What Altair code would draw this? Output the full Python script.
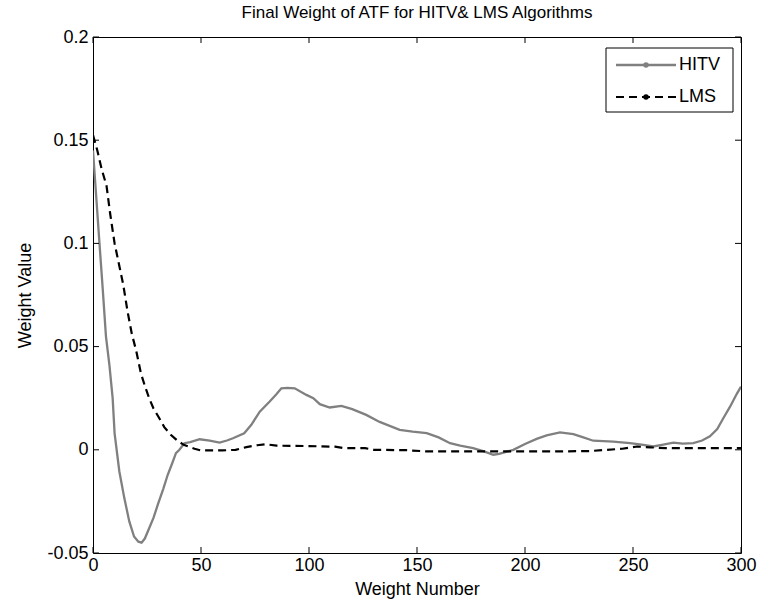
import altair as alt
import pandas as pd

# ---- data ----
hitv_w = [0, 1, 3, 4.5, 6, 7.6, 9.1, 10, 12.2, 14.5, 16.8, 19, 21, 22.5, 24, 26, 28, 30,
          32.5, 34.6, 36.5, 38.4, 40, 42.3, 45, 49.4, 54, 58.6, 62, 64.8, 70, 73.3, 77.2,
          81.8, 85, 87.2, 90, 93.4, 98.8, 102, 105, 109.6, 115, 120, 126.5, 132.7, 142,
          148, 154.5, 160, 165.3, 170, 176, 181, 185.3, 188, 194.6, 200, 205.4, 210, 216.2,
          222.4, 227, 231.6, 240.9, 248.6, 254, 259.4, 264, 268.7, 273, 277.9, 282, 285.6,
          289, 291.8, 295, 298, 300]
hitv_v = [0.145, 0.13, 0.100, 0.078, 0.055, 0.041, 0.025, 0.008, -0.0105, -0.0234, -0.0347,
          -0.042, -0.0445, -0.045, -0.043, -0.038, -0.033, -0.0266, -0.019, -0.0121, -0.007,
          -0.0016, 0.0, 0.0032, 0.0037, 0.0051, 0.0044, 0.0035, 0.0045, 0.0056, 0.008, 0.0121,
          0.0185, 0.0234, 0.027, 0.0298, 0.030, 0.0298, 0.0266, 0.025, 0.0221, 0.0205, 0.0213,
          0.0197, 0.0169, 0.0135, 0.0097, 0.0088, 0.0081, 0.006, 0.0032, 0.002, 0.0008,
          -0.0008, -0.0024, -0.002, 0.0, 0.0028, 0.0053, 0.007, 0.0084, 0.0076, 0.006, 0.0044,
          0.004, 0.0032, 0.0025, 0.0016, 0.0025, 0.0035, 0.003, 0.0032, 0.0045, 0.0065, 0.010,
          0.0153, 0.021, 0.027, 0.0306]

lms_w = [0, 2, 4, 6.25, 8, 10, 12, 14, 16, 18, 20, 22.2, 24, 26, 28, 30.7, 33, 36, 39, 42,
         47, 50, 60, 66, 71, 76, 80, 85, 100, 112, 116, 126, 130, 145, 155, 180, 215, 230,
         245, 252, 258, 265, 300]
lms_v = [0.1525, 0.145, 0.136, 0.128, 0.114, 0.100, 0.090, 0.080, 0.067, 0.056, 0.048, 0.037,
         0.031, 0.025, 0.020, 0.0153, 0.011, 0.0073, 0.0045, 0.0024, 0.0005, -0.0003, -0.0003,
         0.0, 0.0013, 0.0022, 0.0027, 0.002, 0.0018, 0.0015, 0.0008, 0.0008, 0.0, -0.0002,
         -0.0008, -0.0008, -0.0008, -0.0006, 0.0005, 0.0016, 0.0012, 0.0008, 0.0008]

series_names = ["HITV", "LMS"]
x_tick_values = [0, 50, 100, 150, 200, 250, 300]
y_tick_values = [-0.05, 0, 0.05, 0.1, 0.15, 0.2]

title_text = "Final Weight of ATF for HITV& LMS Algorithms"
x_title = "Weight Number"
y_title = "Weight Value"

# ---- layout / style ----
W, H = 648, 516
FONT = "Liberation Sans"
FS = 18
GRAY = "#808080"
TICK = 6

df_h = pd.DataFrame({"w": hitv_w, "v": hitv_v})
df_l = pd.DataFrame({"w": lms_w, "v": lms_v})
df_xt = pd.DataFrame({"w": x_tick_values})
df_yt = pd.DataFrame({"v": y_tick_values})
one = pd.DataFrame({"a": [0]})

xs = alt.Scale(domain=[0, 300], nice=False, zero=False)
ys = alt.Scale(domain=[-0.05, 0.2], nice=False, zero=False)

axis_style = dict(labelFont=FONT, labelFontSize=FS, labelColor="black",
                  titleFont=FONT, titleFontSize=FS, titleFontWeight="normal",
                  titleColor="black", ticks=False, domain=False, grid=False, labelFlush=False)
x_axis = alt.Axis(values=x_tick_values, format="d", labelPadding=3, titlePadding=6, **axis_style)
y_axis = alt.Axis(values=y_tick_values,
                  labelExpr="replace(format(datum.value, '~g'), '\u2212', '-')",
                  labelPadding=5, titlePadding=12, **axis_style)

X = alt.X("w:Q", scale=xs, axis=x_axis, title=x_title)
Y = alt.Y("v:Q", scale=ys, axis=y_axis, title=y_title)

hitv = alt.Chart(df_h).mark_line(color=GRAY, strokeWidth=2.3, clip=True).encode(x=X, y=Y)
lms = alt.Chart(df_l).mark_line(color="black", strokeWidth=2.2, strokeDash=[8, 5],
                                clip=True).encode(x=X, y=Y)

# inward MATLAB-style ticks on all four sides
xt_bot = alt.Chart(df_xt).mark_rule(color="black", strokeWidth=1).encode(
    x=X, y=alt.value(H), y2=alt.value(H - TICK))
xt_top = alt.Chart(df_xt).mark_rule(color="black", strokeWidth=1).encode(
    x=X, y=alt.value(0), y2=alt.value(TICK))
yt_left = alt.Chart(df_yt).mark_rule(color="black", strokeWidth=1).encode(
    y=Y, x=alt.value(0), x2=alt.value(TICK))
yt_right = alt.Chart(df_yt).mark_rule(color="black", strokeWidth=1).encode(
    y=Y, x=alt.value(W), x2=alt.value(W - TICK))

# legend box
LX0, LX1, LY0, LY1 = 513, 640, 11, 75
R1, R2 = 28, 60
box = alt.Chart(one).mark_rect(fill="white", stroke="black", strokeWidth=1).encode(
    x=alt.value(LX0), x2=alt.value(LX1), y=alt.value(LY0), y2=alt.value(LY1))
leg_h_line = alt.Chart(one).mark_rule(color=GRAY, strokeWidth=2.3).encode(
    x=alt.value(523), x2=alt.value(583), y=alt.value(R1))
leg_h_dot = alt.Chart(one).mark_point(filled=True, color=GRAY, size=30, opacity=1).encode(
    x=alt.value(553), y=alt.value(R1))
leg_l_line = alt.Chart(one).mark_rule(color="black", strokeWidth=2.2, strokeDash=[8, 5]).encode(
    x=alt.value(523), x2=alt.value(583), y=alt.value(R2))
leg_l_dot = alt.Chart(one).mark_point(filled=True, color="black", size=30, opacity=1).encode(
    x=alt.value(553), y=alt.value(R2))
df_leg1 = pd.DataFrame({"name": [series_names[0]]})
df_leg2 = pd.DataFrame({"name": [series_names[1]]})
leg_t1 = alt.Chart(df_leg1).mark_text(align="left", baseline="middle", font=FONT, fontSize=FS,
                                      color="black").encode(
    x=alt.value(586), y=alt.value(R1), text="name:N")
leg_t2 = alt.Chart(df_leg2).mark_text(align="left", baseline="middle", font=FONT, fontSize=FS,
                                      color="black").encode(
    x=alt.value(586), y=alt.value(R2), text="name:N")

chart = alt.layer(
    hitv, lms, xt_bot, xt_top, yt_left, yt_right,
    box, leg_h_line, leg_h_dot, leg_l_line, leg_l_dot, leg_t1, leg_t2,
).properties(
    width=W, height=H,
    background="white",
    title=alt.TitleParams(title_text, font=FONT, fontSize=17, fontWeight="normal",
                          color="black", anchor="middle", frame="group", offset=6),
    autosize=alt.AutoSizeParams(type="none"),
    padding={"left": 93, "top": 37, "right": 18, "bottom": 51},
).configure_view(
    stroke="black", strokeWidth=1
)

chart.save("out.html", embed_options={"renderer": "svg", "actions": False})
